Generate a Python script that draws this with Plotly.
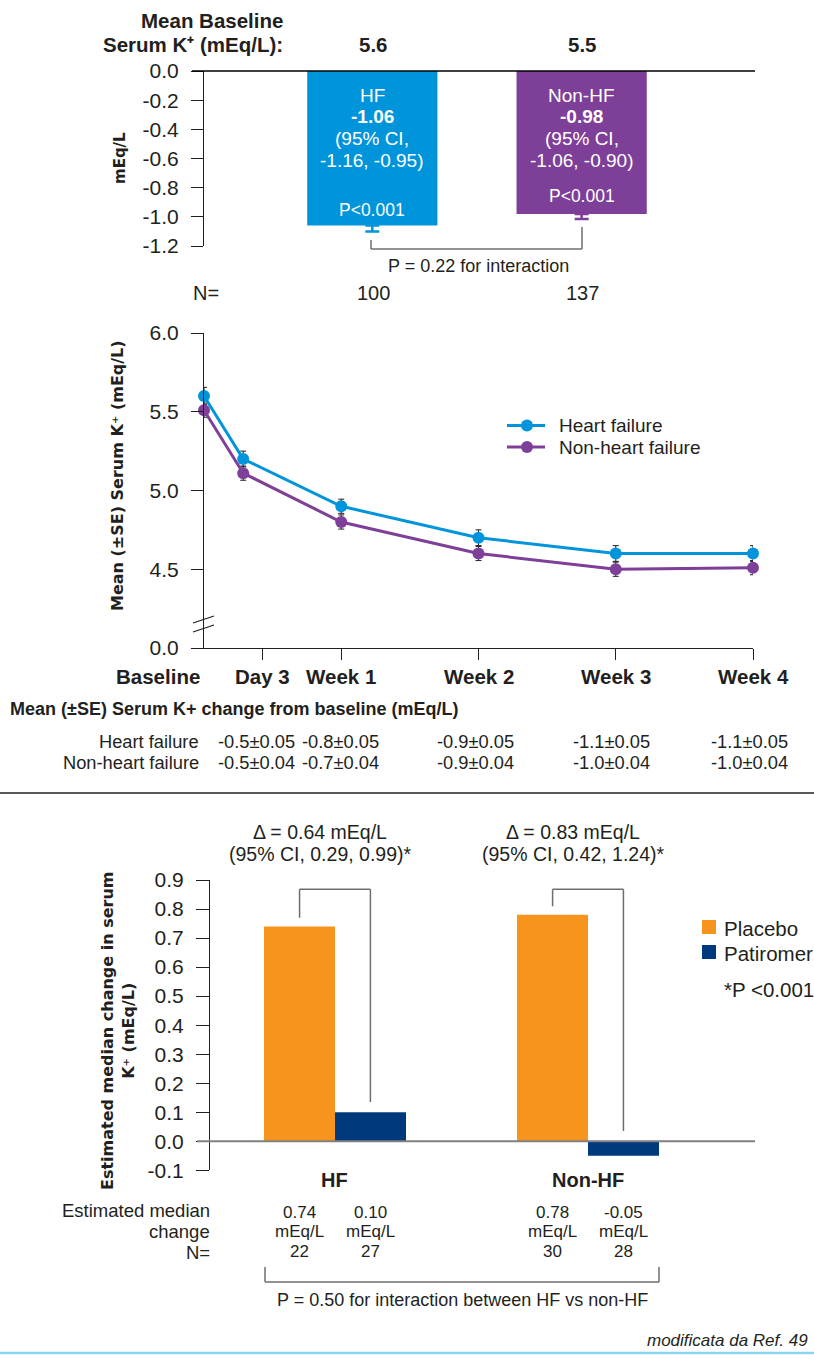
import plotly.graph_objects as go

W, H = 814, 1359
FONT = "Liberation Sans"
TITLE_FONT = "DejaVu Sans"
TXT = "#231f20"
BLUE = "#0095da"
PURPLE = "#7e3f98"
ORANGE = "#f7941d"
NAVY = "#003a7d"
GRAY = "#6d6e71"

# ---------------- Panel A: change from baseline by HF status ----------------
groups_a = ["HF", "Non-HF"]
baseline_k_a = ["5.6", "5.5"]
change_a = [-1.06, -0.98]
change_err_a = [0.04, 0.035]
ci_a = ["-1.16, -0.95)", "-1.06, -0.90)"]
n_a = ["100", "137"]
p_a = ["P<0.001", "P<0.001"]
p_level_a = [-0.955, -0.858]
colors_a = [BLUE, PURPLE]
yticks_a = [0.0, -0.2, -0.4, -0.6, -0.8, -1.0, -1.2]

# ---------------- Panel B: serum K+ over time ----------------
visits = ["Baseline", "Day 3", "Week 1", "Week 2", "Week 3", "Week 4"]
visit_day = [0, 2, 7, 14, 21, 28]
tick_day = [3, 7, 14, 21, 28]
hf_mean = [5.60, 5.20, 4.90, 4.70, 4.60, 4.60]
hf_se = [0.055, 0.05, 0.045, 0.05, 0.05, 0.05]
nonhf_mean = [5.51, 5.11, 4.80, 4.60, 4.50, 4.51]
nonhf_se = [0.045, 0.045, 0.045, 0.045, 0.045, 0.045]
yticks_b = [4.0, 4.5, 5.0, 5.5, 6.0]
yticklabels_b = ["0.0", "4.5", "5.0", "5.5", "6.0"]
hf_change = ["-0.5±0.05", "-0.8±0.05", "-0.9±0.05", "-1.1±0.05", "-1.1±0.05"]
nonhf_change = ["-0.5±0.04", "-0.7±0.04", "-0.9±0.04", "-1.0±0.04", "-1.0±0.04"]
series_b = ["Heart failure", "Non-heart failure"]

# ---------------- Panel C: placebo vs patiromer ----------------
groups_c = ["HF", "Non-HF"]
treatments_c = ["Placebo", "Patiromer"]
placebo = [0.74, 0.78]
patiromer = [0.10, -0.05]
n_placebo = ["22", "30"]
n_patiromer = ["27", "28"]
delta = ["0.64", "0.83"]
delta_ci = ["0.29, 0.99", "0.42, 1.24"]
yticks_c = [0.9, 0.8, 0.7, 0.6, 0.5, 0.4, 0.3, 0.2, 0.1, 0.0, -0.1]


def px(x):
    return x / W


def py(y):
    return 1 - y / H


annotations = []
shapes = []


def txt(x, y, text, size=17, bold=False, anchor="center", xref="paper", yref="paper",
        color=TXT, family=FONT, angle=0, italic=False):
    if bold:
        text = "<b>" + text + "</b>"
    if italic:
        text = "<i>" + text + "</i>"
    annotations.append(dict(
        x=px(x) if xref == "paper" else x, y=py(y) if yref == "paper" else y,
        xref=xref, yref=yref, text=text, showarrow=False, xanchor=anchor,
        yanchor="middle", textangle=angle, borderpad=0,
        font=dict(family=family, size=size, color=color)))


def seg(x0, y0, x1, y1, color=GRAY, width=1.5):
    shapes.append(dict(type="line", xref="paper", yref="paper",
                       x0=px(x0), y0=py(y0), x1=px(x1), y1=py(y1),
                       line=dict(color=color, width=width)))


def box(x0, y0, x1, y1, color, kind="rect"):
    shapes.append(dict(type=kind, xref="paper", yref="paper",
                       x0=px(x0), y0=py(y1), x1=px(x1), y1=py(y0),
                       fillcolor=color, line=dict(width=0)))


fig = go.Figure()

# ---- Panel A bars ----
for i, g in enumerate(groups_a):
    fig.add_trace(go.Bar(
        x=[g], y=[change_a[i]], width=0.622, marker=dict(color=colors_a[i], line=dict(width=0)),
        error_y=dict(type="data", symmetric=False, array=[0], arrayminus=[change_err_a[i]],
                     color=colors_a[i], thickness=2.5, width=7),
        showlegend=False, xaxis="x", yaxis="y", hoverinfo="skip"))
    txt(i, -0.165, g, 19, xref="x", yref="y", color="white")
    txt(i, -0.315, f"{change_a[i]:.2f}", 19, bold=True, xref="x", yref="y", color="white")
    txt(i, -0.466, "(95% CI,", 19, xref="x", yref="y", color="white")
    txt(i, -0.612, ci_a[i], 19, xref="x", yref="y", color="white")
    txt(i, p_level_a[i], p_a[i], 17.5, xref="x", yref="y", color="white")
    txt(373 + 209 * i, 45, baseline_k_a[i], 20.5, bold=True)
    txt(373 + 209 * i, 293, n_a[i], 20)

txt(284, 20, "Mean Baseline", 20.5, bold=True, anchor="right")
txt(284, 45, "Serum K⁺ (mEq/L):", 20.5, bold=True, anchor="right")
txt(220, 293, "N=", 20, anchor="right")
txt(120, 158, "mEq/L", 15, bold=True, angle=-90, family=TITLE_FONT)
txt(478, 266, "P = 0.22 for interaction", 18)
# zero line and interaction bracket
seg(192, 71, 755, 71, color="#000000", width=1.5)
seg(371, 240, 371, 249, color=GRAY)
seg(371, 249, 582, 249, color=GRAY)
seg(582, 249, 582, 227, color=GRAY)

# ---- Panel B lines ----
colors_b = [BLUE, PURPLE]
for name, mean, se, col in zip(series_b, [hf_mean, nonhf_mean], [hf_se, nonhf_se], colors_b):
    fig.add_trace(go.Scatter(
        x=visit_day, y=mean, mode="lines+markers", name=name,
        line=dict(color=col, width=3), marker=dict(color=col, size=12),
        error_y=dict(type="data", array=se, color="#231f20", thickness=1, width=3),
        xaxis="x2", yaxis="y2", cliponaxis=False, showlegend=False, hoverinfo="skip"))

# legend (drawn)
for k, (name, col) in enumerate(zip(series_b, colors_b)):
    yy = 425.5 + 21.6 * k
    seg(507, yy, 545, yy, color=col, width=3)
    box(521, yy - 6, 533, yy + 6, col, kind="circle")
    txt(558, yy, name, 19, anchor="left")

txt(158, 677, visits[0], 20.5, bold=True)
for d, v in zip(tick_day, visits[1:]):
    txt(d, 677, v, 20.5, bold=True, xref="x2")
txt(118, 476, "Mean (±SE) Serum K⁺ (mEq/L)", 16, bold=True, angle=-90, family=TITLE_FONT)
# axis break
seg(193, 623, 214, 616, color="#231f20", width=1.2)
seg(193, 632, 214, 625, color="#231f20", width=1.2)

txt(9, 709, "Mean (±SE) Serum K+ change from baseline (mEq/L)", 18, bold=True, anchor="left")
txt(200, 741, series_b[0], 18.3, anchor="right")
txt(200, 762, series_b[1], 18.3, anchor="right")
col_x = [256, 340, 476, 611, 749]
for cx, a, b in zip(col_x, hf_change, nonhf_change):
    txt(cx, 741, a, 18.3)
    txt(cx, 762, b, 18.3)

seg(0, 793, 814, 793, color="#231f20", width=1.5)

# ---- Panel C bars ----
fig.add_trace(go.Bar(
    x=groups_c, y=placebo, name=treatments_c[0], marker=dict(color=ORANGE, line=dict(width=0)),
    xaxis="x3", yaxis="y3", showlegend=False, hoverinfo="skip"))
fig.add_trace(go.Bar(
    x=groups_c, y=patiromer, name=treatments_c[1], marker=dict(color=NAVY, line=dict(width=0)),
    xaxis="x3", yaxis="y3", showlegend=False, hoverinfo="skip"))

for k, (name, col) in enumerate(zip(treatments_c, [ORANGE, NAVY])):
    yy = 927 + 25 * k
    box(702, yy - 7, 716, yy + 7, col)
    txt(723, yy + 1, name, 20.5, anchor="left")
txt(723, 989, "*P <0.001", 20.5, anchor="left")

off = 0.14
for i, g in enumerate(groups_c):
    left, right = i - off, i + off
    top = 0.868
    shapes.append(dict(type="line", xref="x3", yref="y3", x0=left, x1=left,
                       y0=placebo[i] + 0.03, y1=top, line=dict(color=GRAY, width=1.5)))
    shapes.append(dict(type="line", xref="x3", yref="y3", x0=left, x1=right,
                       y0=top, y1=top, line=dict(color=GRAY, width=1.5)))
    shapes.append(dict(type="line", xref="x3", yref="y3", x0=right, x1=right,
                       y0=top, y1=max(patiromer[i], 0) + 0.035, line=dict(color=GRAY, width=1.5)))
    gx = 335 + 253 * i
    txt(gx - 15, 832, f"Δ = {delta[i]} mEq/L", 19.5)
    txt(gx - 15, 854, f"(95% CI, {delta_ci[i]})*", 19.5)
    txt(i, 1180, g, 20, bold=True, xref="x3")
    for cx, val, n in ((left, placebo[i], n_placebo[i]), (right, patiromer[i], n_patiromer[i])):
        txt(cx, 1212, f"{val:.2f}", 17, xref="x3")
        txt(cx, 1231.5, "mEq/L", 17, xref="x3")
        txt(cx, 1251, n, 17, xref="x3")

# zero line over bars
shapes.append(dict(type="line", xref="paper", yref="y3", x0=px(197), x1=px(755), y0=0, y1=0,
                   line=dict(color="#808080", width=2)))

txt(118, 1031, "Estimated median change in serum<br>K⁺ (mEq/L)", 16, bold=True, angle=-90,
    family=TITLE_FONT)
txt(211, 1210, "Estimated median", 18.5, anchor="right")
txt(211, 1231, "change", 18.5, anchor="right")
txt(211, 1252, "N=", 18.5, anchor="right")
seg(265, 1267, 265, 1282, color=GRAY)
seg(265, 1282, 659, 1282, color=GRAY)
seg(659, 1282, 659, 1267, color=GRAY)
txt(462, 1300, "P = 0.50 for interaction between HF vs non-HF", 18)
txt(646, 1340, "modificata da Ref. 49", 17, anchor="left", italic=True)
seg(0, 1353, 814, 1353, color="#8ad4f4", width=2.5)

axis_common = dict(showgrid=False, zeroline=False, linecolor="#231f20", linewidth=1.2,
                   tickcolor="#231f20", tickwidth=1.2, ticklabelstandoff=8,
                   tickfont=dict(family=FONT, size=21, color=TXT))

fig.update_layout(
    width=W, height=H, margin=dict(l=0, r=0, t=0, b=0, autoexpand=False),
    paper_bgcolor="white", plot_bgcolor="white",
    font=dict(family=FONT, color=TXT),
    barmode="group", bargap=0.4387, bargroupgap=0, showlegend=False,
    xaxis=dict(domain=[px(204), px(755)], range=[-0.804, 1.828], type="category",
               showticklabels=False, showline=False, ticks="", anchor="y", showgrid=False,
               zeroline=False),
    yaxis=dict(domain=[py(246), py(71)], range=[-1.2, 0], tickvals=yticks_a,
               ticktext=[f"{v:.1f}" for v in yticks_a], ticks="outside", ticklen=12,
               showline=True, anchor="x", **axis_common),
    xaxis2=dict(domain=[px(204), px(753)], range=[0, 28], tickvals=tick_day,
                ticktext=[""] * len(tick_day), ticks="outside", ticklen=11, showline=True,
                anchor="y2", **axis_common),
    yaxis2=dict(domain=[py(648), py(333)], range=[4.0, 6.0], tickvals=yticks_b,
                ticktext=yticklabels_b, ticks="outside", ticklen=12, showline=True,
                anchor="x2", **axis_common),
    xaxis3=dict(domain=[px(210), px(755)], range=[-0.494, 1.660], type="category",
                showticklabels=False, showline=False, ticks="", anchor="y3", showgrid=False,
                zeroline=False),
    yaxis3=dict(domain=[py(1170.3), py(880)], range=[-0.1, 0.9], tickvals=yticks_c,
                ticktext=[f"{v:.1f}" for v in yticks_c], ticks="outside", ticklen=13,
                showline=True, anchor="x3", **axis_common),
    annotations=annotations, shapes=shapes,
)

fig.write_html("out.html", config={"displayModeBar": False},
               post_script="document.body.style.margin='0px';")
